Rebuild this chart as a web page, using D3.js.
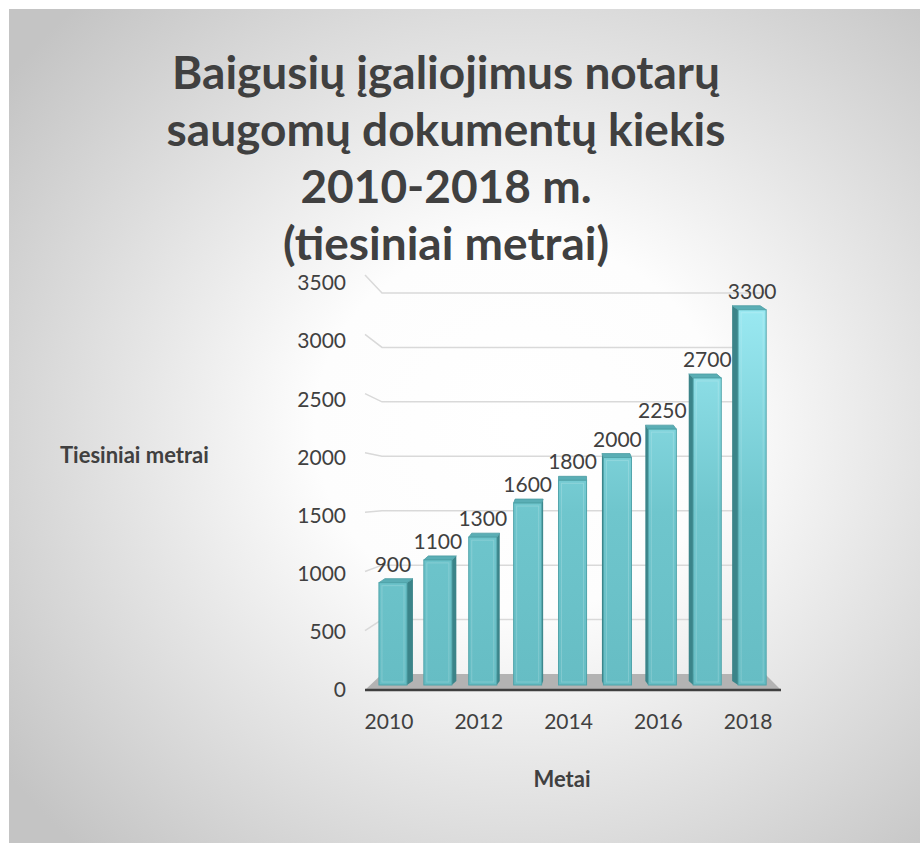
<!DOCTYPE html>
<html>
<head>
<meta charset="utf-8">
<script src="https://d3js.org/d3.v7.min.js"></script>
<style>
  body { margin: 0; background: #fff; }
  text { font-family: Lato, "Open Sans", sans-serif; fill: #404040; }
</style>
</head>
<body>
<script>
var years = ["2010", "2011", "2012", "2013", "2014", "2015", "2016", "2017", "2018"];
var values = [900, 1100, 1300, 1600, 1800, 2000, 2250, 2700, 3300];
var yTicks = [0, 500, 1000, 1500, 2000, 2500, 3000, 3500];
var xTickLabels = ["2010", "2012", "2014", "2016", "2018"];
var titleLines = ["Baigusių įgaliojimus notarų", "saugomų dokumentų kiekis", "2010-2018 m.", "(tiesiniai metrai)"];

var W = 920, H = 843;
var svg = d3.select("body").append("svg").attr("width", W).attr("height", H);
var defs = svg.append("defs");

var bg = defs.append("radialGradient").attr("id", "bg")
    .attr("cx", "56%").attr("cy", "50%").attr("r", "70%");
bg.append("stop").attr("offset", "0%").attr("stop-color", "#ffffff");
bg.append("stop").attr("offset", "32%").attr("stop-color", "#fdfdfd");
bg.append("stop").attr("offset", "100%").attr("stop-color", "#c4c4c4");

var barGrad = defs.append("linearGradient").attr("id", "barGrad")
    .attr("gradientUnits", "userSpaceOnUse")
    .attr("x1", 0).attr("y1", 685).attr("x2", 0).attr("y2", 300);
barGrad.append("stop").attr("offset", "0%").attr("stop-color", "#66bdc4");
barGrad.append("stop").attr("offset", "45%").attr("stop-color", "#6fc6cd");
barGrad.append("stop").attr("offset", "100%").attr("stop-color", "#9ceaf3");

svg.append("rect").attr("x", 9).attr("y", 9).attr("width", W - 9).attr("height", H - 9)
    .attr("fill", "url(#bg)");

// title
svg.append("g").selectAll("text").data(titleLines).enter().append("text")
    .attr("x", 446)
    .attr("y", function (d, i) { return 89 + i * 57; })
    .attr("text-anchor", "middle")
    .style("font-size", "46px").style("font-weight", "bold")
    .text(function (d) { return d; });

// scales
var x = d3.scaleBand().domain(years).range([370.5, 774.6]).paddingInner(0.376).paddingOuter(0.188);
var yBack = d3.scaleLinear().domain([0, 3500]).range([674, 293]);
var yFront = d3.scaleLinear().domain([0, 3500]).range([690, 275]);
var yLabel = d3.scaleLinear().domain([0, 3500]).range([690, 283]);
var yBar = d3.scaleLinear().domain([0, 3500]).range([685, 287]);
var vanishX = 572, depth = 4;

// gridlines (front-left diagonal + back wall)
svg.append("g").selectAll("path").data(yTicks.filter(function (d) { return d > 0; })).enter().append("path")
    .attr("d", function (d) {
        return "M365," + yFront(d) + "L382," + yBack(d) + "L765," + yBack(d);
    })
    .attr("fill", "none").attr("stroke", "#d9d9d9").attr("stroke-width", 1.5);

// floor
svg.append("path")
    .attr("d", "M365,690L781,690L765," + yBack(0) + "L382," + yBack(0) + "Z")
    .attr("fill", "#b3b3b3");
svg.append("line").attr("x1", 365).attr("x2", 781).attr("y1", 690).attr("y2", 690)
    .attr("stroke", "#3f3f3f").attr("stroke-width", 2.5);

// y axis labels
svg.append("g").attr("transform", "translate(346,0)")
    .call(d3.axisLeft(yLabel).tickValues(yTicks).tickFormat(d3.format("d")).tickSize(0).tickPadding(0))
    .call(function (g) { g.select(".domain").remove(); })
    .selectAll("text").style("font-size", "21px").attr("fill", "#404040")
    .style("font-family", "Lato, 'Open Sans', sans-serif");

// x axis labels
svg.append("g").attr("transform", "translate(-4,714)")
    .call(d3.axisBottom(x).tickValues(xTickLabels).tickSize(0).tickPadding(0))
    .call(function (g) { g.select(".domain").remove(); })
    .selectAll("text").style("font-size", "21px").attr("fill", "#404040")
    .style("font-family", "Lato, 'Open Sans', sans-serif");

// bars
var bars = svg.append("g").selectAll("g").data(values).enter().append("g");
function shift(i) {
    var c = x(years[i]) + x.bandwidth() / 2;
    return (vanishX - c) / 180 * 6;
}
bars.append("path") // side face
    .attr("d", function (d, i) {
        var s = shift(i), x0 = x(years[i]), x1 = x0 + x.bandwidth();
        var xe = s > 0 ? x1 : x0, t = yBar(d), b = yBar(0);
        return "M" + xe + "," + t + "L" + (xe + s) + "," + (t - depth) + "L" + (xe + s) + "," + (b - depth) + "L" + xe + "," + b + "Z";
    })
    .attr("fill", "#3b8489");
bars.append("path") // top face
    .attr("d", function (d, i) {
        var s = shift(i), x0 = x(years[i]), x1 = x0 + x.bandwidth(), t = yBar(d);
        return "M" + x0 + "," + t + "L" + x1 + "," + t + "L" + (x1 + s) + "," + (t - depth) + "L" + (x0 + s) + "," + (t - depth) + "Z";
    })
    .attr("fill", "#5aaeb5").attr("stroke", "#4a9ca2").attr("stroke-width", 0.8);
bars.append("rect") // front face
    .attr("x", function (d, i) { return x(years[i]); })
    .attr("y", function (d) { return yBar(d); })
    .attr("width", x.bandwidth())
    .attr("height", function (d) { return yBar(0) - yBar(d); })
    .attr("fill", "url(#barGrad)").attr("stroke", "#4fa3a9").attr("stroke-width", 1);
bars.append("rect") // inner bevel
    .attr("x", function (d, i) { return x(years[i]) + 3; })
    .attr("y", function (d) { return yBar(d) + 3; })
    .attr("width", x.bandwidth() - 6)
    .attr("height", function (d) { return Math.max(0, yBar(0) - yBar(d) - 6); })
    .attr("fill", "none").attr("stroke", "#ffffff").attr("stroke-opacity", 0.18).attr("stroke-width", 1);

// data labels
bars.append("text")
    .attr("x", function (d, i) { return x(years[i]) + x.bandwidth() / 2; })
    .attr("y", function (d) { return yBar(d) - 11; })
    .attr("text-anchor", "middle")
    .style("font-size", "21px")
    .text(function (d) { return d; });

// axis titles
svg.append("text").attr("x", 60).attr("y", 463)
    .style("font-size", "22px").style("font-weight", "bold").text("Tiesiniai metrai");
svg.append("text").attr("x", 562).attr("y", 787).attr("text-anchor", "middle")
    .style("font-size", "22px").style("font-weight", "bold").text("Metai");
</script>
</body>
</html>
